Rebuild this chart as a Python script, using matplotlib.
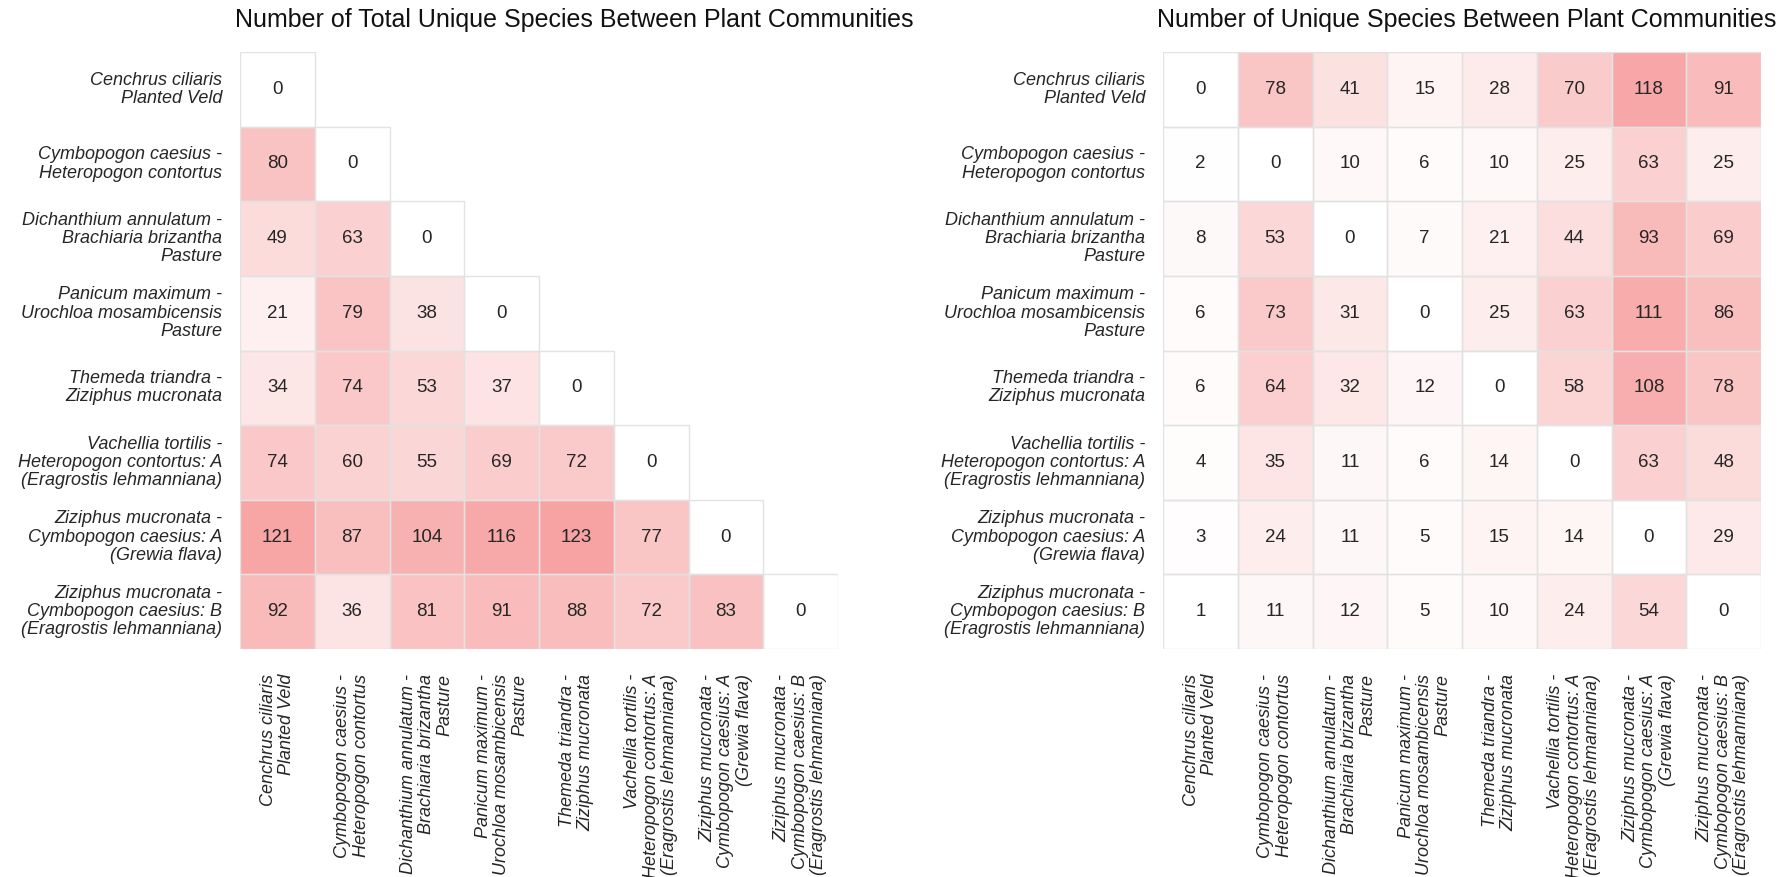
import numpy as np
import matplotlib
matplotlib.use("Agg")
import matplotlib.pyplot as plt
from matplotlib.colors import LinearSegmentedColormap
from matplotlib.patches import Rectangle
import seaborn as sns

plt.rcParams['font.family'] = ['Liberation Sans', 'DejaVu Sans']

communities = [
    "Cenchrus ciliaris\nPlanted Veld",
    "Cymbopogon caesius -\nHeteropogon contortus",
    "Dichanthium annulatum -\nBrachiaria brizantha\nPasture",
    "Panicum maximum -\nUrochloa mosambicensis\nPasture",
    "Themeda triandra -\nZiziphus mucronata",
    "Vachellia tortilis -\nHeteropogon contortus: A\n(Eragrostis lehmanniana)",
    "Ziziphus mucronata -\nCymbopogon caesius: A\n(Grewia flava)",
    "Ziziphus mucronata -\nCymbopogon caesius: B\n(Eragrostis lehmanniana)",
]

# Total unique species between each pair (lower triangle incl. diagonal)
total_unique = [
    [0],
    [80, 0],
    [49, 63, 0],
    [21, 79, 38, 0],
    [34, 74, 53, 37, 0],
    [74, 60, 55, 69, 72, 0],
    [121, 87, 104, 116, 123, 77, 0],
    [92, 36, 81, 91, 88, 72, 83, 0],
]

# Species unique to the row community relative to the column community
unique_species = [
    [0, 78, 41, 15, 28, 70, 118, 91],
    [2, 0, 10, 6, 10, 25, 63, 25],
    [8, 53, 0, 7, 21, 44, 93, 69],
    [6, 73, 31, 0, 25, 63, 111, 86],
    [6, 64, 32, 12, 0, 58, 108, 78],
    [4, 35, 11, 6, 14, 0, 63, 48],
    [3, 24, 11, 5, 15, 14, 0, 29],
    [1, 11, 12, 5, 10, 24, 54, 0],
]

title_left = "Number of Total Unique Species Between Plant Communities"
title_right = "Number of Unique Species Between Plant Communities"

n = len(communities)
total = np.zeros((n, n), dtype=int)
for i, row in enumerate(total_unique):
    total[i, :len(row)] = row
upper_mask = np.triu(np.ones((n, n), dtype=bool), k=1)
unique = np.array(unique_species)
no_mask = np.zeros((n, n), dtype=bool)

cmap = LinearSegmentedColormap.from_list("pinks", ["#ffffff", "#f58f8f"])
VMAX = 150
GRID = "#e2e2e2"

W, H = 1789, 877
fig = plt.figure(figsize=(W / 100, H / 100), dpi=100)
ax_l = fig.add_axes([240 / W, 1 - 649 / H, 598 / W, 597 / H])
ax_r = fig.add_axes([1163 / W, 1 - 649 / H, 598 / W, 597 / H])

text_color = "#262626"
for ax, data, mask in [(ax_l, total, upper_mask), (ax_r, unique, no_mask)]:
    sns.heatmap(data, mask=mask, ax=ax, cmap=cmap, vmin=0, vmax=VMAX,
                annot=True, fmt="d", cbar=False, square=False,
                linewidths=0,
                annot_kws={"fontsize": 13.5, "color": text_color})
    # outline only the cells that are shown
    for i in range(n):
        for j in range(n):
            if not mask[i, j]:
                ax.add_patch(Rectangle((j, i), 1, 1, fill=False,
                                       edgecolor=GRID, linewidth=1.0))
    ax.set_xticks(np.arange(n) + 0.5)
    ax.set_yticks(np.arange(n) + 0.5)
    ax.set_xticklabels(communities, rotation=90, fontsize=13, style="italic",
                       color=text_color, ha="center", va="top",
                       multialignment="right", linespacing=1.1)
    ax.set_yticklabels(communities, rotation=0, fontsize=13, style="italic",
                       color=text_color, ha="right", va="center",
                       multialignment="right", linespacing=1.1)
    ax.tick_params(axis="x", length=0, pad=18)
    ax.tick_params(axis="y", length=0, pad=13)
    for s in ax.spines.values():
        s.set_visible(False)

fig.text(235 / W, 1 - 27 / H, title_left, fontsize=18, ha="left",
         va="baseline", color="#111111")
fig.text(1157 / W, 1 - 27 / H, title_right, fontsize=18, ha="left",
         va="baseline", color="#111111")

fig.savefig("out.png", dpi=100, facecolor="white")
